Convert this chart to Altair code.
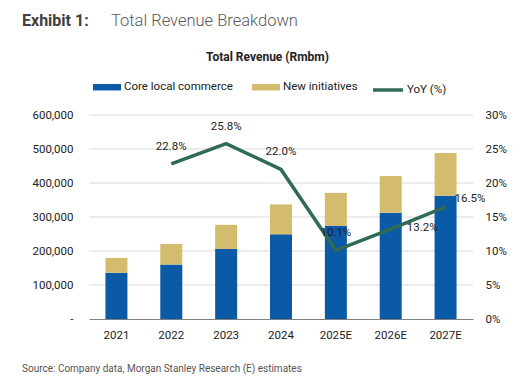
import altair as alt
import pandas as pd

years = ["2021", "2022", "2023", "2024", "2025E", "2026E", "2027E"]
core = [136000, 160000, 206000, 249000, 274000, 312500, 362500]
new_init = [43500, 60500, 71000, 88000, 97000, 108000, 125500]
yoy_years = ["2022", "2023", "2024", "2025E", "2026E", "2027E"]
yoy = [22.8, 25.8, 22.0, 10.1, 13.2, 16.5]
label_side = ["above", "above", "above", "above", "right", "upright"]
left_ticks = [0, 100000, 200000, 300000, 400000, 500000, 600000]
right_ticks = [0, 0.05, 0.1, 0.15, 0.2, 0.25, 0.3]

FONT = "Roboto"
BLUE = "#0B5AA6"
TAN = "#D4BC6E"
GREEN = "#2F6B55"
TXT = "#222222"

bars = pd.DataFrame(
    [{"year": y, "series": "Core local commerce", "value": c, "order": 0} for y, c in zip(years, core)]
    + [{"year": y, "series": "New initiatives", "value": n, "order": 1} for y, n in zip(years, new_init)]
)
line = pd.DataFrame({"year": yoy_years, "yoy": [v / 100 for v in yoy], "side": label_side, "name": "YoY (%)"})
line["label"] = [f"{v:.1f}%" for v in yoy]
grid = pd.DataFrame({"g": left_ticks[1:]})

W, H = 384, 204
xscale = alt.Scale(paddingInner=0.6, paddingOuter=0.3)
xplain = alt.X("year:N", sort=years, scale=xscale, title=None)
lscale = alt.Scale(domain=[0, 600000], nice=False)

gridlines = alt.Chart(grid).mark_rule(color="#D9D9D9", strokeWidth=1).encode(
    y=alt.Y("g:Q", scale=lscale, axis=None)
)

bar = alt.Chart(bars).mark_bar(size=22).encode(
    x=alt.X("year:N", sort=years, title=None, scale=xscale,
            axis=alt.Axis(labelAngle=0, ticks=False, domain=True, domainColor="#808080",
                          labelPadding=10, labelFont=FONT, labelFontSize=11.5, labelColor=TXT,
                          grid=False)),
    y=alt.Y("value:Q", stack="zero", title=None, scale=lscale,
            axis=alt.Axis(orient="left", values=left_ticks,
                          labelExpr="datum.value == 0 ? '-' : format(datum.value, ',')",
                          ticks=False, domain=False, domainOpacity=0, grid=False,
                          labelPadding=16, labelFont=FONT, labelFontSize=11.5, labelColor=TXT)),
    color=alt.Color("series:N", sort=["Core local commerce", "New initiatives"],
                    scale=alt.Scale(domain=["Core local commerce", "New initiatives"], range=[BLUE, TAN]),
                    legend=alt.Legend(title=None, orient="none", legendX=4, legendY=-42,
                                      direction="horizontal",
                                      symbolType="M-1,-0.23H1V0.23H-1Z", symbolSize=784,
                                      symbolStrokeWidth=0, symbolOpacity=1,
                                      labelFont=FONT, labelFontSize=11.5, labelColor=TXT,
                                      labelOffset=3, columnPadding=19, padding=0, labelLimit=200)),
    order=alt.Order("order:Q"),
)

yscale = alt.Scale(domain=[0, 0.3], nice=False)
yoy_line = alt.Chart(line).mark_line(strokeWidth=3.5).encode(
    x=xplain,
    y=alt.Y("yoy:Q", scale=yscale, title=None,
            axis=alt.Axis(orient="right", format=".0%", values=right_ticks,
                          ticks=False, domain=False, domainOpacity=0, grid=False, labelPadding=12,
                          labelFont=FONT, labelFontSize=11.5, labelColor=TXT)),
    stroke=alt.Stroke("name:N", scale=alt.Scale(range=[GREEN]),
                      legend=alt.Legend(title=None, orient="none", legendX=282, legendY=-42,
                                        symbolType="stroke", symbolSize=900, symbolStrokeWidth=3.5,
                                        labelFont=FONT, labelFontSize=11.5, labelColor=TXT,
                                        labelOffset=2, padding=0)),
)

def lab(side, **kw):
    return alt.Chart(line).transform_filter(f"datum.side == '{side}'").mark_text(
        font=FONT, fontSize=11.5, color=TXT, **kw
    ).encode(x=xplain, y=alt.Y("yoy:Q", scale=yscale, axis=None), text="label:N")

lab_above = lab("above", dy=-17, align="center")
lab_right = lab("right", dx=16, dy=-1, align="left")
lab_upright = lab("upright", dx=9, dy=-8, align="left")

def txt(s, x, y, **kw):
    return alt.Chart(pd.DataFrame({"t": [s]})).mark_text(font=FONT, **kw).encode(
        text="t:N", x=alt.value(x), y=alt.value(y))

t1 = txt("Exhibit 1:", -67, -89, fontSize=16, fontWeight="bold", color="#404040", align="left", baseline="alphabetic")
t2 = txt("Total Revenue Breakdown", 22, -89, fontSize=16.5, fontWeight=300, color="#595959", align="left", baseline="alphabetic")
t3 = txt("Total Revenue (Rmbm)", 178.5, -54, fontSize=12, fontWeight="bold", color=TXT, align="center", baseline="alphabetic")
t4 = txt("Source: Company data, Morgan Stanley Research (E) estimates", -67, 257, fontSize=10, color="#555555", align="left", baseline="alphabetic")

chart = alt.layer(gridlines, bar, yoy_line, lab_above, lab_right, lab_upright, t1, t2, t3, t4).resolve_scale(
    y="independent", color="independent", stroke="independent"
).properties(
    width=W, height=H,
    padding={"left": 14, "top": 5, "right": 5, "bottom": 5},
).configure_view(strokeWidth=0, stroke="transparent").configure_axisY(
    domain=False, grid=False, ticks=False
).configure_axisX(grid=False)

chart.save("out.html", embed_options={"renderer": "svg", "actions": False})
